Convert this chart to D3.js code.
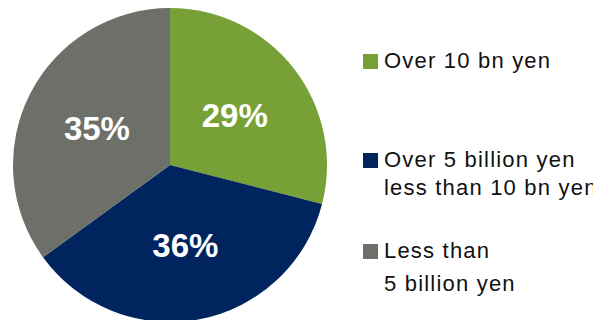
<!DOCTYPE html>
<html>
<head>
<meta charset="utf-8">
<script src="https://cdn.jsdelivr.net/npm/d3@7"></script>
<style>
    body { margin: 0; background: #fff; }
    svg { display: block; font-family: "Liberation Sans", Arial, sans-serif; }
</style>
</head>
<body>
<svg id="chart"></svg>
<script>
// data
const categories = ["Over 10 bn yen", "Over 5 billion yen less than 10 bn yen", "Less than 5 billion yen"];
const values = [29, 36, 35];
const legendLines = [["Over 10 bn yen"], ["Over 5 billion yen", "less than 10 bn yen"], ["Less than", "5 billion yen"]];
const colors = ["#77a136", "#00245e", "#6d6f69"];

const width = 593, height = 320;
const cx = 170, cy = 165, radius = 157;

const svg = d3.select("#chart")
    .attr("width", width)
    .attr("height", height);

const pie = d3.pie().sort(null).value(d => d)(values);
const arc = d3.arc().innerRadius(0).outerRadius(radius);
const labelArc = d3.arc().innerRadius(82).outerRadius(82);

const g = svg.append("g")
    .attr("transform", `translate(${cx} ${cy})`);

g.selectAll("path")
    .data(pie)
    .enter()
    .append("path")
    .attr("d", arc)
    .style("fill", (d, i) => colors[i]);

g.selectAll("text")
    .data(pie)
    .enter()
    .append("text")
    .attr("transform", d => `translate(${labelArc.centroid(d)})`)
    .attr("text-anchor", "middle")
    .attr("dy", "0.36em")
    .style("fill", "white")
    .style("font-weight", "bold")
    .style("font-size", "33px")
    .text(d => d.data + "%");

// legend
const legendY = d3.scaleOrdinal().domain(categories).range([68, 167, 258]);
const lineGap = [0, 28, 33];

const item = svg.selectAll(".legend")
    .data(categories)
    .enter()
    .append("g")
    .attr("class", "legend")
    .attr("transform", d => `translate(363 ${legendY(d)})`);

item.append("rect")
    .attr("x", 0)
    .attr("y", -14)
    .attr("width", 15)
    .attr("height", 15)
    .style("fill", (d, i) => colors[i]);

item.each(function (d, i) {
    const t = d3.select(this).append("text")
        .attr("x", 21)
        .style("font-size", "22px")
        .style("letter-spacing", "1.2px")
        .style("fill", "#111");
    legendLines[i].forEach((line, j) => {
        t.append("tspan")
            .attr("x", 21)
            .attr("y", j * lineGap[i])
            .text(line);
    });
});
</script>
</body>
</html>
